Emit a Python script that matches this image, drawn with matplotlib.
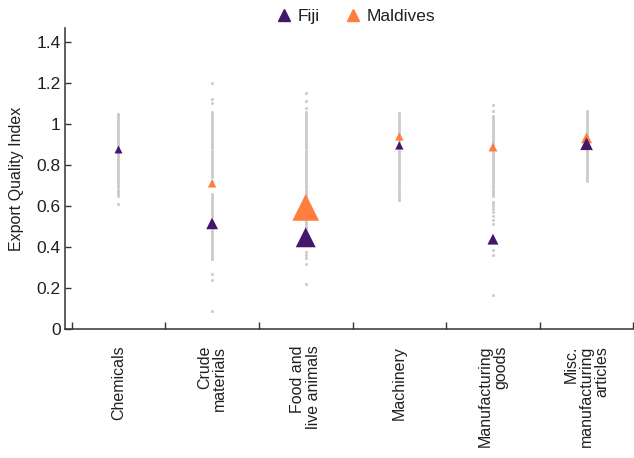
import matplotlib
matplotlib.use("Agg")
import matplotlib.pyplot as plt
from matplotlib.lines import Line2D
import numpy as np

plt.rcParams['font.family'] = ['Liberation Sans Narrow', 'Liberation Sans', 'DejaVu Sans']

categories = ["Chemicals", "Crude\nmaterials", "Food and\nlive animals", "Machinery",
              "Manufacturing\ngoods", "Misc.\nmanufacturing\narticles"]

# export quality of all other countries (grey dots)
others = [
    [1.05, 1.045, 1.04, 1.03, 1.02, 1.01, 1.0, 0.99, 0.98, 0.97, 0.96, 0.95, 0.94, 0.93,
     0.92, 0.91, 0.9, 0.89, 0.88, 0.87, 0.86, 0.85, 0.84, 0.83, 0.82, 0.81, 0.8, 0.79,
     0.78, 0.77, 0.76, 0.75, 0.74, 0.73, 0.72, 0.71, 0.7, 0.69, 0.68, 0.67, 0.66, 0.65, 0.61],
    [1.2, 1.12, 1.1, 1.06, 1.05, 1.04, 1.03, 1.02, 1.01, 1.0, 0.99, 0.98, 0.97, 0.96, 0.95,
     0.94, 0.93, 0.92, 0.91, 0.9, 0.89, 0.88, 0.87, 0.86, 0.85, 0.84, 0.83, 0.82, 0.81,
     0.8, 0.79, 0.78, 0.77, 0.76, 0.75, 0.74, 0.72, 0.7, 0.66, 0.65, 0.64, 0.63, 0.62,
     0.61, 0.6, 0.59, 0.58, 0.57, 0.56, 0.55, 0.49, 0.48, 0.47, 0.46, 0.45, 0.44, 0.43,
     0.42, 0.41, 0.4, 0.39, 0.38, 0.37, 0.36, 0.35, 0.34, 0.27, 0.24, 0.09],
    [1.15, 1.11, 1.075, 1.06, 1.05, 1.04, 1.03, 1.02, 1.01, 1.0, 0.99, 0.98, 0.97, 0.96,
     0.95, 0.94, 0.93, 0.92, 0.91, 0.9, 0.89, 0.88, 0.87, 0.86, 0.85, 0.84, 0.83, 0.82,
     0.81, 0.8, 0.79, 0.78, 0.77, 0.76, 0.75, 0.74, 0.73, 0.72, 0.71, 0.7, 0.69, 0.68,
     0.67, 0.66, 0.65, 0.64, 0.63, 0.62, 0.61, 0.6, 0.59, 0.58, 0.57, 0.56, 0.55, 0.54,
     0.53, 0.52, 0.51, 0.5, 0.49, 0.375, 0.36, 0.345, 0.315, 0.22],
    [1.055, 1.05, 1.04, 1.03, 1.02, 1.01, 1.0, 0.99, 0.98, 0.97, 0.96, 0.95, 0.94, 0.93,
     0.92, 0.91, 0.9, 0.89, 0.88, 0.87, 0.86, 0.85, 0.84, 0.83, 0.82, 0.81, 0.8, 0.79,
     0.78, 0.77, 0.76, 0.75, 0.74, 0.73, 0.72, 0.71, 0.7, 0.69, 0.68, 0.67, 0.66, 0.65,
     0.64, 0.63],
    [1.09, 1.065, 1.04, 1.03, 1.02, 1.01, 1.0, 0.99, 0.98, 0.97, 0.96, 0.95, 0.94, 0.93,
     0.92, 0.91, 0.9, 0.89, 0.88, 0.87, 0.86, 0.85, 0.84, 0.83, 0.82, 0.81, 0.8, 0.79,
     0.78, 0.77, 0.76, 0.75, 0.74, 0.73, 0.72, 0.71, 0.7, 0.69, 0.68, 0.67, 0.66, 0.65,
     0.62, 0.61, 0.6, 0.585, 0.57, 0.55, 0.53, 0.51, 0.385, 0.36, 0.165],
    [1.065, 1.06, 1.05, 1.04, 1.03, 1.02, 1.01, 1.0, 0.99, 0.98, 0.97, 0.96, 0.95, 0.94,
     0.93, 0.92, 0.91, 0.9, 0.89, 0.88, 0.87, 0.86, 0.85, 0.84, 0.83, 0.82, 0.81, 0.8,
     0.79, 0.78, 0.77, 0.76, 0.75, 0.74, 0.73, 0.72],
]

fiji = [0.875, 0.515, 0.447, 0.895, 0.438, 0.903]
maldives = [np.nan, 0.71, 0.593, 0.939, 0.887, 0.932]
# export share (%) used for triangle size
fiji_share = [1, 10, 29, 2, 8, 12]
maldives_share = [0, 2, 45, 2, 3, 8]

ytick_vals = [0, 0.2, 0.4, 0.6, 0.8, 1.0, 1.2, 1.4]
ytick_labels = ["0", "0.2", "0.4", "0.6", "0.8", "1", "1.2", "1.4"]

FIJI_C = "#45176b"
MALD_C = "#ff7d3d"
GREY = "#cccccc"
TEXT_C = "#231f20"


def tri_size(share):
    # triangle width in px -> scatter area in pt^2
    w = (7.5 + 0.43 * np.asarray(share, dtype=float)) / 1.389
    return w ** 2


fig = plt.figure(figsize=(6.34, 4.58), dpi=100)
ax = fig.add_axes([0.102, 0.2817, 0.897, 0.657])

xpos = np.arange(len(categories)) + 0.5
for x, vals in zip(xpos, others):
    ax.scatter(np.full(len(vals), x), vals, s=5, color=GREY, linewidths=0, zorder=1)

ax.scatter(xpos, maldives, s=tri_size(maldives_share), marker='^', color=MALD_C,
           linewidths=0, zorder=3)
ax.scatter(xpos, fiji, s=tri_size(fiji_share), marker='^', color=FIJI_C,
           linewidths=0, zorder=4)

ax.set_xlim(-0.075, len(categories))
ax.set_ylim(0, 1.467)

ax.set_xticks(np.arange(len(categories) + 1))
ax.set_xticklabels([])
ax.set_xticks(xpos, minor=True)
ax.set_xticklabels(categories, minor=True, rotation=90, ha='center', va='top',
                   multialignment='right', fontsize=11.5, color=TEXT_C, linespacing=1.05)
ax.tick_params(axis='x', which='major', direction='in', length=5, width=1, color='#333333')
ax.tick_params(axis='x', which='minor', length=0, pad=12)

ax.set_yticks(ytick_vals)
ax.set_yticklabels(ytick_labels, fontsize=12.5, color=TEXT_C)
ax.tick_params(axis='y', direction='in', length=4, width=1, color='#333333', pad=3)

for side in ['top', 'right']:
    ax.spines[side].set_visible(False)
for side in ['left', 'bottom']:
    ax.spines[side].set_color('#333333')
    ax.spines[side].set_linewidth(1.1)

ax.set_ylabel("Export Quality Index", fontsize=11.5, color=TEXT_C, labelpad=9)

handles = [Line2D([], [], ls='none', marker='^', markersize=8.4, color=FIJI_C),
           Line2D([], [], ls='none', marker='^', markersize=8.4, color=MALD_C)]
fig.legend(handles, ["Fiji", "Maldives"], loc='center', bbox_to_anchor=(0.56, 0.965),
           ncol=2, frameon=False, fontsize=12.5, handlelength=1, handletextpad=0.3,
           columnspacing=1.4, labelcolor=TEXT_C)

fig.savefig("out.png", dpi=100)
